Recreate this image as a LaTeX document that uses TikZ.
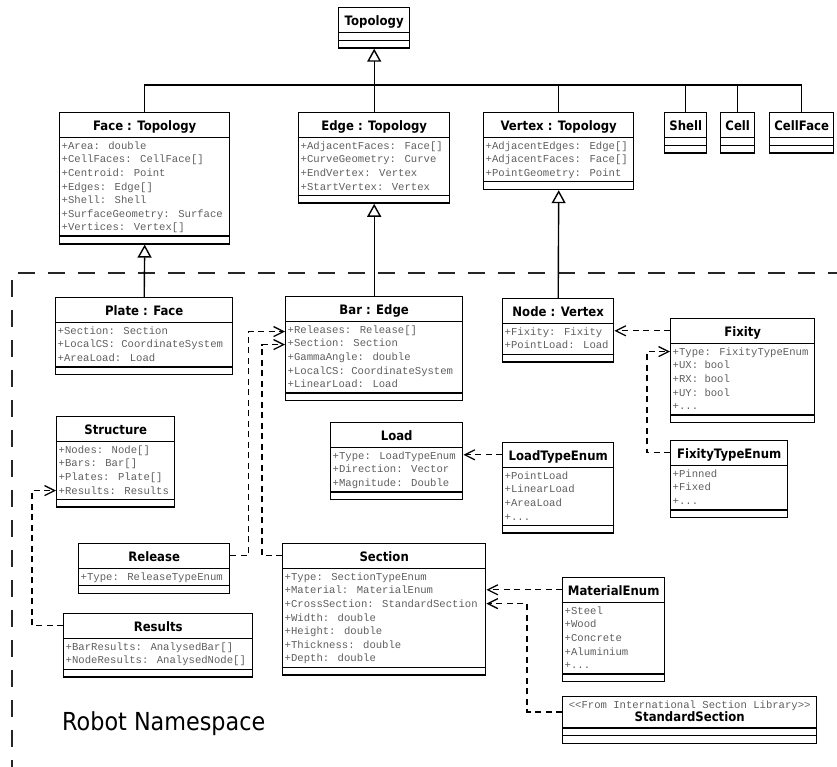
\documentclass[tikz,border=0pt]{standalone}
\usepackage{fontspec}
\usepackage{array}
\usepackage{tikz}
\usetikzlibrary{shapes.multipart,arrows.meta,calc}

\newfontfamily\classfont{DejaVu Sans}[FakeStretch=0.9]
\newfontfamily\attrfont{Liberation Mono}
\definecolor{attrgray}{RGB}{95,95,95}

\newcommand{\ctitle}[1]{{\classfont\bfseries\fontsize{13}{15}\selectfont\rule[-5.75pt]{0pt}{21.5pt}#1}}
\newcommand{\cattrs}[1]{{\attrfont\fontsize{10.6}{13.6}\selectfont\color{attrgray}\renewcommand{\arraystretch}{0}%
\begin{tabular}{@{}>{\rule[-3.6pt]{0pt}{13.6pt}}l@{}}#1\end{tabular}}}

\tikzset{
  umlclass/.style={draw, line width=1.4pt, rectangle split, rectangle split parts=3,
    rectangle split part align={center,left,left},
    rectangle split empty part height=2pt, rectangle split empty part depth=0pt,
    inner xsep=2pt, inner ysep=1pt, anchor=north west, minimum width=#1},
  generalize/.style={line width=1.4pt, -{Triangle[open,length=13pt,width=14pt]}},
  inherit line/.style={line width=1.4pt},
  depend/.style={line width=1.3pt, dash pattern=on 6pt off 4.5pt,
    -{Straight Barb[length=10pt,width=10pt]}},
  pkgline/.style={line width=1.6pt, dash pattern=on 17pt off 13pt, black!85},
}

\begin{document}
\begin{tikzpicture}[x=1pt,y=-1pt]
\useasboundingbox (0,0) rectangle (837,767);
%
\node[umlclass=71pt] (topology) at (338,7) {\ctitle{Topology}};
\node[umlclass=170pt] (face) at (59,112) {\ctitle{Face : Topology}\nodepart{second}\cattrs{+Area: double\\+CellFaces: CellFace[]\\+Centroid: Point\\+Edges: Edge[]\\+Shell: Shell\\+SurfaceGeometry: Surface\\+Vertices: Vertex[]}};
\node[umlclass=151pt] (edge) at (298,112) {\ctitle{Edge : Topology}\nodepart{second}\cattrs{+AdjacentFaces: Face[]\\+CurveGeometry: Curve\\+EndVertex: Vertex\\+StartVertex: Vertex}};
\node[umlclass=150pt] (vertex) at (483,112) {\ctitle{Vertex : Topology}\nodepart{second}\cattrs{+AdjacentEdges: Edge[]\\+AdjacentFaces: Face[]\\+PointGeometry: Point}};
\node[umlclass=42pt] (shell) at (664,112) {\ctitle{Shell}};
\node[umlclass=34pt] (cell) at (720,112) {\ctitle{Cell}};
\node[umlclass=64pt] (cellface) at (769,112) {\ctitle{CellFace}};
%
\node[umlclass=177pt] (plate) at (55,297) {\ctitle{Plate : Face}\nodepart{second}\cattrs{+Section: Section\\+LocalCS: CoordinateSystem\\+AreaLoad: Load}};
\node[umlclass=177pt] (bar) at (285,296) {\ctitle{Bar : Edge}\nodepart{second}\cattrs{+Releases: Release[]\\+Section: Section\\+GammaAngle: double\\+LocalCS: CoordinateSystem\\+LinearLoad: Load}};
\node[umlclass=111pt] (robotnode) at (502,298) {\ctitle{Node : Vertex}\nodepart{second}\cattrs{+Fixity: Fixity\\+PointLoad: Load}};
\node[umlclass=144pt] (fixity) at (670,318) {\ctitle{Fixity}\nodepart{second}\cattrs{+Type: FixityTypeEnum\\+UX: bool\\+RX: bool\\+UY: bool\\+...}};
\node[umlclass=117pt] (fixitytype) at (670,440) {\ctitle{FixityTypeEnum}\nodepart{second}\cattrs{+Pinned\\+Fixed\\+...}};
\node[umlclass=118pt] (structure) at (56,416) {\ctitle{Structure}\nodepart{second}\cattrs{+Nodes: Node[]\\+Bars: Bar[]\\+Plates: Plate[]\\+Results: Results}};
\node[umlclass=132pt] (load) at (330,422) {\ctitle{Load}\nodepart{second}\cattrs{+Type: LoadTypeEnum\\+Direction: Vector\\+Magnitude: Double}};
\node[umlclass=111pt] (loadtype) at (502,442) {\ctitle{LoadTypeEnum}\nodepart{second}\cattrs{+PointLoad\\+LinearLoad\\+AreaLoad\\+...}};
\node[umlclass=151pt] (release) at (78,543) {\ctitle{Release}\nodepart{second}\cattrs{+Type: ReleaseTypeEnum}};
\node[umlclass=203pt] (section) at (282,543) {\ctitle{Section}\nodepart{second}\cattrs{+Type: SectionTypeEnum\\+Material: MaterialEnum\\+CrossSection: StandardSection\\+Width: double\\+Height: double\\+Thickness: double\\+Depth: double}};
\node[umlclass=189pt] (results) at (63,613) {\ctitle{Results}\nodepart{second}\cattrs{+BarResults: AnalysedBar[]\\+NodeResults: AnalysedNode[]}};
\node[umlclass=102pt] (material) at (562,577) {\ctitle{MaterialEnum}\nodepart{second}\cattrs{+Steel\\+Wood\\+Concrete\\+Aluminium\\+...}};
\node[umlclass=254pt] (stdsection) at (562,696) {\renewcommand{\arraystretch}{0}\begin{tabular}{@{}c@{}}
  {\attrfont\fontsize{10.6}{13.6}\selectfont\color{attrgray}\rule[-3pt]{0pt}{13pt}<<From International Section Library>>}\\
  {\classfont\bfseries\fontsize{13}{15}\selectfont\rule[-5pt]{0pt}{14pt}StandardSection}\end{tabular}};
%
\node[anchor=base west, inner sep=0pt, font=\classfont\fontsize{24.8}{30}\selectfont] (robotns) at (62,730) {Robot Namespace};
%
\draw[pkgline] (18,273) -- (837,273);
\draw[pkgline] (12,280) -- (12,767);
%
\coordinate (topobus) at ($(topology.south |- face.north)+(0,-27)$);
\draw[generalize] (topobus) -- (topology.south);
\foreach \sub in {face,edge,vertex,shell,cell,cellface}
  \draw[inherit line] (\sub.north) |- (topobus);
\draw[generalize] (plate.north) -- (face.south);
\draw[generalize] (bar.north) -- (edge.south);
\draw[generalize] (robotnode.north) -- (vertex.south);
%
\coordinate (fixity-t) at ($(fixity.north west)!.5!(fixity.text split west)$);
\coordinate (fixitytype-t) at ($(fixitytype.north west)!.5!(fixitytype.text split west)$);
\coordinate (loadtype-t) at ($(loadtype.north west)!.5!(loadtype.text split west)$);
\coordinate (release-t) at ($(release.north east)!.5!(release.text split east)$);
\coordinate (section-t) at ($(section.north west)!.5!(section.text split west)$);
\coordinate (results-t) at ($(results.north west)!.5!(results.text split west)$);
\coordinate (material-t) at ($(material.north west)!.5!(material.text split west)$);
\coordinate (stdsection-t) at ($(stdsection.north west)!.5!(stdsection.text split west)$);
%
\coordinate (bar-rel) at ($(bar.text split west)+(0,10)$);
\coordinate (bar-sec) at ($(bar.text split west)+(0,23)$);
\coordinate (fixity-type) at ($(fixity.text split west)+(0,8)$);
\coordinate (structure-res) at ($(structure.text split west)+(0,49)$);
\coordinate (section-cross) at ($(section.text split east)+(0,35)$);
%
\draw[depend] (fixity-t) -- (robotnode.east |- fixity-t);
\draw[depend] (loadtype-t) -- (load.east |- loadtype-t);
\draw[depend] (material-t) -- (section.east |- material-t);
\draw[depend] (fixitytype-t) -- ++(-23,0) |- (fixity-type);
\draw[depend] (release-t) -- ++(18,0) |- (bar-rel);
\draw[depend] (section-t) -- ++(-20,0) |- (bar-sec);
\draw[depend] (results-t) -- ++(-31,0) |- (structure-res);
\draw[depend] (stdsection-t) -- ++(-35,0) |- (section-cross);
\end{tikzpicture}
\end{document}
